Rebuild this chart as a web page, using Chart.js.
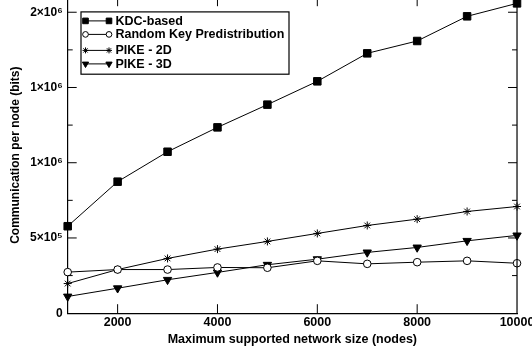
<!DOCTYPE html>
<html>
<head>
<meta charset="utf-8">
<script src="https://cdn.jsdelivr.net/npm/chart.js@4/dist/chart.umd.min.js"></script>
<style>
  html, body { margin: 0; padding: 0; background: #fff; }
  body { width: 532px; height: 354px; overflow: hidden; position: relative; }
  #wrap { position: absolute; left: 0; top: 0; width: 532px; height: 354px; }
</style>
</head>
<body>
<div id="wrap"><canvas id="chart"></canvas></div>
<script>
// network size (nodes)
const xValues = [1000, 2000, 3000, 4000, 5000, 6000, 7000, 8000, 9000, 10000];
const xTickValues = [2000, 4000, 6000, 8000, 10000];

// communication per node (bits)
const kdcBased = [578000, 874000, 1073000, 1235000, 1386000, 1541000, 1727000, 1809000, 1973000, 2059000];
const randomKey = [273000, 290000, 290000, 304000, 302000, 348000, 328000, 339000, 348000, 332000];
const pike2D = [197000, 290000, 364000, 426000, 477000, 530000, 583000, 625000, 676000, 709000];
const pike3D = [111000, 166000, 222000, 271000, 322000, 359000, 404000, 437000, 481000, 517000];

const seriesNames = ['KDC-based', 'Random Key Predistribution', 'PIKE - 2D', 'PIKE - 3D'];

// y ticks: majors get labels, minors are only tick marks
const yTickValues = [0, 250000, 500000, 750000, 1000000, 1250000, 1500000, 1750000, 2000000];
const yLabelValues = [0, 500000, 1000000, 1500000, 2000000];
const yTickLabels = ['0', '5\u00d710\u2075', '1\u00d710\u2076', '1\u00d710\u2076', '2\u00d710\u2076'];

const FONT = "'Liberation Sans', Arial, 'DejaVu Sans', sans-serif";

const toPoints = vals => xValues.map((x, i) => ({ x: x, y: vals[i] }));

const styles = [
  { pointStyle: 'rect', radius: 5.3, fill: '#000', rotation: 0 },
  { pointStyle: 'circle', radius: 3.8, fill: '#fff', rotation: 0 },
  { pointStyle: 'star', radius: 4, fill: '#000', rotation: 0 },
  { pointStyle: 'triangle', radius: 4.8, fill: '#000', rotation: 180 }
];

const allSeries = [kdcBased, randomKey, pike2D, pike3D];

const datasets = allSeries.map((vals, i) => ({
  label: seriesNames[i],
  data: toPoints(vals),
  borderColor: '#000',
  borderWidth: 1,
  backgroundColor: styles[i].fill,
  pointStyle: styles[i].pointStyle,
  pointRadius: styles[i].radius,
  pointRotation: styles[i].rotation,
  pointBackgroundColor: styles[i].fill,
  pointBorderColor: '#000',
  pointBorderWidth: 1,
  tension: 0,
  fill: false,
  clip: false
}));

// frame on top/right + inward tick marks (gnuplot style)
const frameTicks = {
  id: 'frameTicks',
  afterDraw(chart) {
    const ctx = chart.ctx;
    const { left, right, top, bottom } = chart.chartArea;
    const xs = chart.scales.x, ys = chart.scales.y;
    ctx.save();
    ctx.strokeStyle = '#000';
    ctx.lineWidth = 1.2;
    ctx.beginPath();
    ctx.moveTo(left, top); ctx.lineTo(right, top); ctx.lineTo(right, bottom);
    ctx.stroke();
    ctx.lineWidth = 1;
    ctx.beginPath();
    ys.ticks.forEach(t => {
      if (t.value <= 0) return;
      const py = ys.getPixelForValue(t.value);
      const len = yLabelValues.includes(t.value) ? 9 : 5;
      ctx.moveTo(left, py); ctx.lineTo(left + len, py);
      ctx.moveTo(right - len, py); ctx.lineTo(right, py);
    });
    xs.ticks.forEach(t => {
      if (t.value >= xs.max) return;
      const px = xs.getPixelForValue(t.value);
      ctx.moveTo(px, bottom); ctx.lineTo(px, bottom - 9);
      ctx.moveTo(px, top); ctx.lineTo(px, top + 9);
    });
    ctx.stroke();
    ctx.restore();
  }
};

// boxed legend inside the plot, sample line with a marker at each end
const boxLegend = {
  id: 'boxLegend',
  afterDraw(chart) {
    const ctx = chart.ctx;
    const { left, top } = chart.chartArea;
    const bx = left + 13.3, by = top + 14.7, bw = 208, bh = 62.3;
    const rows = [9, 22.5, 38.5, 52];
    ctx.save();
    ctx.fillStyle = '#fff';
    ctx.fillRect(bx, by, bw, bh);
    ctx.strokeStyle = '#000';
    ctx.lineWidth = 1.2;
    ctx.strokeRect(bx, by, bw, bh);
    ctx.font = 'bold 12.5px ' + FONT;
    ctx.textBaseline = 'middle';
    ctx.textAlign = 'left';
    chart.data.datasets.forEach((ds, i) => {
      const y = by + rows[i];
      const x1 = bx + 4.5, x2 = bx + 28;
      ctx.lineWidth = 1;
      ctx.strokeStyle = '#000';
      ctx.beginPath();
      ctx.moveTo(x1, y); ctx.lineTo(x2, y);
      ctx.stroke();
      const opt = {
        pointStyle: ds.pointStyle, radius: ds.pointRadius * 0.75,
        rotation: ds.pointRotation, borderWidth: 1
      };
      ctx.fillStyle = ds.pointBackgroundColor;
      ctx.strokeStyle = '#000';
      [x1, x2].forEach(px => {
        Chart.helpers.drawPoint(ctx, opt, px, y);
      });
      ctx.fillStyle = '#000';
      ctx.fillText(ds.label, bx + 34.5, y + 0.5);
    });
    ctx.restore();
  }
};

const chart = new Chart(document.getElementById('chart'), {
  type: 'line',
  data: { datasets: datasets },
  options: {
    responsive: true,
    maintainAspectRatio: false,
    animation: false,
    layout: { padding: 0 },
    plugins: {
      legend: { display: false },
      tooltip: { enabled: false }
    },
    scales: {
      x: {
        type: 'linear',
        min: 1000,
        max: 10000,
        afterBuildTicks: s => { s.ticks = xTickValues.map(v => ({ value: v })); },
        afterFit: s => { s.height = 41; },
        grid: { display: false, drawTicks: false },
        border: { display: true, color: '#000', width: 1.2 },
        ticks: {
          color: '#000',
          font: { family: FONT, size: 12.5, weight: 'bold' },
          padding: 2,
          maxRotation: 0,
          autoSkip: false,
          callback: v => String(v)
        },
        title: {
          display: true,
          text: 'Maximum supported network size (nodes)',
          color: '#000',
          font: { family: FONT, size: 12.5, weight: 'bold' },
          padding: { top: 0, bottom: 7 }
        }
      },
      y: {
        type: 'linear',
        min: 0,
        max: 2100000,
        afterBuildTicks: s => { s.ticks = yTickValues.map(v => ({ value: v })); },
        afterFit: s => { s.width = 67.7; },
        grid: { display: false, drawTicks: false },
        border: { display: true, color: '#000', width: 1.2 },
        ticks: {
          color: '#000',
          font: { family: FONT, size: 12, weight: 'bold' },
          padding: 5,
          autoSkip: false,
          callback: v => {
            const k = yLabelValues.indexOf(v);
            return k >= 0 ? yTickLabels[k] : '';
          }
        },
        title: {
          display: true,
          text: 'Communication per node (bits)',
          color: '#000',
          font: { family: FONT, size: 12, weight: 'bold' },
          padding: { top: 8, bottom: 0 }
        }
      }
    }
  },
  plugins: [frameTicks, boxLegend]
});

// the original figure is cropped: plot frame starts just above the top edge,
// and the last x label runs off the right side
const wrap = document.getElementById('wrap');
const ca = chart.chartArea;
const shiftTop = ca.top + 3;
const padRight = chart.width - ca.right;
wrap.style.top = (-shiftTop) + 'px';
wrap.style.height = (354 + shiftTop) + 'px';
wrap.style.width = (517 + padRight) + 'px';
chart.resize();
</script>
</body>
</html>
